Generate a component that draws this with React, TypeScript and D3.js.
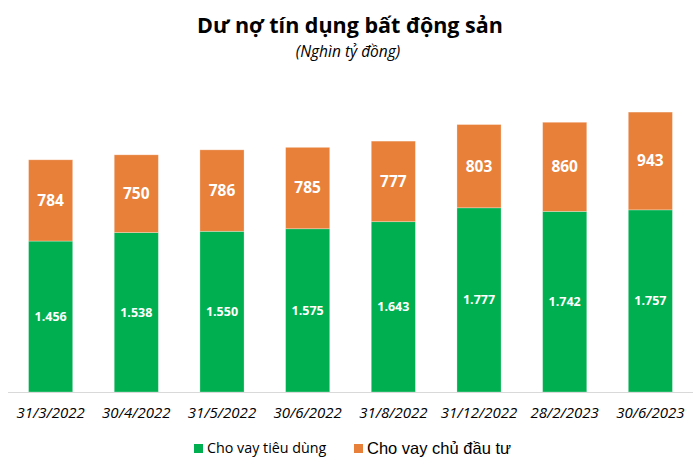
import * as React from "react";
import * as d3 from "d3";

const dates = ["31/3/2022", "30/4/2022", "31/5/2022", "30/6/2022", "31/8/2022", "31/12/2022", "28/2/2023", "30/6/2023"];
const consumerLoans = [1456, 1538, 1550, 1575, 1643, 1777, 1742, 1757];
const developerLoans = [784, 750, 786, 785, 777, 803, 860, 943];
const seriesNames = ["Cho vay tiêu dùng", "Cho vay chủ đầu tư"];

const GREEN = "#00B050";
const ORANGE = "#E8803A";

const fmt = (v: number) => d3.format(",")(v).replace(/,/g, ".");

export default function App() {
    const width = 700;
    const height = 466;

    const xScale = d3.scaleBand<string>().domain(dates).range([8, 693]).paddingInner(0.485).paddingOuter(0.24);
    const yScale = d3.scaleLinear().domain([0, 3000]).range([392, 81]);

    const stackData = dates.map((d, i) => ({ date: d, consumer: consumerLoans[i], developer: developerLoans[i] }));
    const series = d3.stack<any>().keys(["consumer", "developer"])(stackData);
    const colors = [GREEN, ORANGE];

    return <svg width={width} height={height} style={{ position: "absolute", left: 0, top: 0 }}>
        <rect width={width} height={height} fill="#fff" />
        <text x={350} y={33} textAnchor="middle" fontFamily="'Open Sans', sans-serif" fontWeight="bold" fontSize={21.5} fill="#000">Dư nợ tín dụng bất động sản</text>
        <text x={348} y={57} textAnchor="middle" fontFamily="'Open Sans', sans-serif" fontStyle="italic" fontSize={15.5} fill="#000">(Nghìn tỷ đồng)</text>

        {series.map((s, si) => <g key={si}>
            {s.map((p, i) => {
                const x = xScale(dates[i]) || 0;
                const y0 = yScale(p[0]);
                const y1 = yScale(p[1]);
                return <g key={i}>
                    <rect x={x} y={y1} width={xScale.bandwidth()} height={y0 - y1} fill={colors[si]} stroke="#fff" strokeOpacity={0.35} strokeWidth={0.8} />
                    <text x={x + xScale.bandwidth() / 2} y={(y0 + y1) / 2} dy="0.35em" textAnchor="middle"
                        fontFamily="'Open Sans', sans-serif" fontWeight="bold" fontSize={si === 0 ? 12.5 : 15.5} fill="#fff">
                        {fmt(p[1] - p[0])}
                    </text>
                </g>;
            })}
        </g>)}

        <line x1={8} x2={693} y1={392.5} y2={392.5} stroke="#d9d9d9" strokeWidth={1} />

        {dates.map(d => <text key={d} x={(xScale(d) || 0) + xScale.bandwidth() / 2} y={418} textAnchor="middle"
            fontFamily="'Open Sans', sans-serif" fontStyle="italic" fontSize={15} fill="#000">{d}</text>)}

        <rect x={194} y={444} width={9} height={9} fill={GREEN} />
        <text x={207} y={453} fontFamily="'Open Sans', sans-serif" fontSize={14.3} fill="#000">{seriesNames[0]}</text>
        <rect x={354} y={444} width={9} height={9} fill={ORANGE} />
        <text x={367} y={454} fontFamily="'Liberation Sans', Arial, sans-serif" fontSize={16.5} fill="#000">{seriesNames[1]}</text>
    </svg>;
}
